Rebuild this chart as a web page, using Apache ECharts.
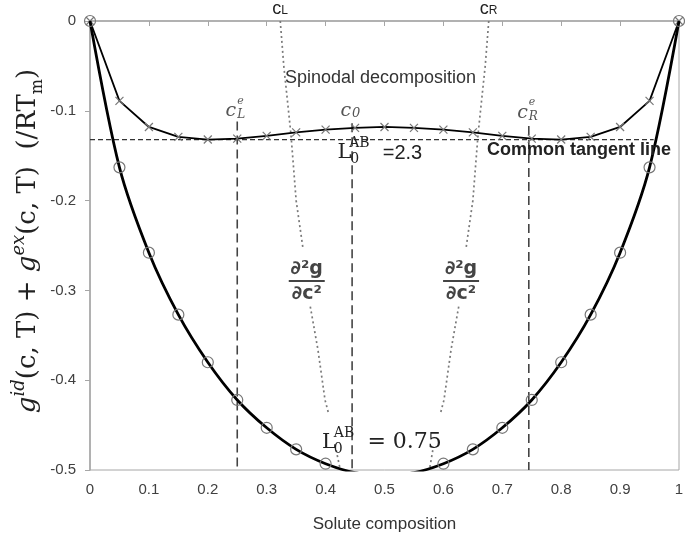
<!DOCTYPE html>
<html>
<head>
<meta charset="utf-8">
<script src="https://cdn.jsdelivr.net/npm/echarts@6/dist/echarts.min.js"></script>
<style>
  html, body { margin: 0; padding: 0; background: #fff; }
  #main { width: 685px; height: 541px; }
</style>
</head>
<body>
<div id="main"></div>
<script>
// solute composition c
var comp = [0, 0.05, 0.1, 0.15, 0.2, 0.25, 0.3, 0.35, 0.4, 0.45, 0.5,
            0.55, 0.6, 0.65, 0.7, 0.75, 0.8, 0.85, 0.9, 0.95, 1];
// g (/RTm) for L0AB = 2.3  (x markers)
var gHigh = [0, -0.089, -0.118, -0.129, -0.132, -0.131, -0.128, -0.124, -0.121, -0.119, -0.118,
             -0.119, -0.121, -0.124, -0.128, -0.131, -0.132, -0.129, -0.118, -0.089, 0];
// g (/RTm) for L0AB = 0.75 (circle markers)
var gLow = [0, -0.163, -0.258, -0.327, -0.380, -0.422, -0.453, -0.477, -0.493, -0.503, -0.506,
            -0.503, -0.493, -0.477, -0.453, -0.422, -0.380, -0.327, -0.258, -0.163, 0];

// common tangent line and equilibrium / c0 positions
var tangentY = -0.132;
var tangentX = [0, 0.957];
var ceL = 0.25, c0 = 0.445, ceR = 0.745;
var vTop = [-0.112, -0.114, -0.117];

// dotted d2g/dc2 guide lines (segments broken where labels sit)
var cLSegs = [
  [[0.323, 0], [0.329, -0.05], [0.341, -0.125], [0.350, -0.2], [0.362, -0.255]],
  [[0.374, -0.318], [0.387, -0.366], [0.399, -0.422], [0.405, -0.437]],
  [[0.418, -0.478], [0.424, -0.497]]
];
var cRSegs = [
  [[0.677, 0], [0.671, -0.05], [0.659, -0.125], [0.650, -0.2], [0.638, -0.255]],
  [[0.626, -0.318], [0.613, -0.366], [0.601, -0.422], [0.595, -0.437]],
  [[0.582, -0.478], [0.577, -0.497]]
];

var myChart = echarts.init(document.getElementById('main'));

function pairs(xs, ys) {
  return xs.map(function (x, i) { return [x, ys[i]]; });
}

var series = [];
cLSegs.concat(cRSegs).forEach(function (seg) {
  series.push({
    type: 'line', data: seg, symbol: 'none', silent: true, z: 1,
    lineStyle: { color: '#7a7a7a', width: 1.7, type: [2, 3] }
  });
});
series.push({
  type: 'line', data: pairs(tangentX, [tangentY, tangentY]), symbol: 'none', z: 1,
  lineStyle: { color: '#333', width: 1.2, type: [5, 3] }
});
[ceL, c0, ceR].forEach(function (c, i) {
  series.push({
    type: 'line', data: [[c, vTop[i]], [c, -0.5]], symbol: 'none', z: 1,
    lineStyle: { color: '#444', width: 1.6, type: [9, 5] }
  });
});
series.push({
  name: 'L=2.3', type: 'line', data: pairs(comp, gHigh), z: 3,
  symbol: 'path://M0,0L10,10M10,0L0,10', symbolSize: 8,
  itemStyle: { color: 'none', borderColor: '#777', borderWidth: 1.2 },
  lineStyle: { color: '#000', width: 1.8 }
});
series.push({
  name: 'L=0.75', type: 'line', data: pairs(comp, gLow), z: 4, clip: true,
  smooth: 0.3,
  symbol: 'circle', symbolSize: 11,
  itemStyle: { color: 'rgba(0,0,0,0)', borderColor: '#777', borderWidth: 1.2 },
  lineStyle: { color: '#000', width: 2.8 }
});

var axisGray = '#a6a6a6';
var option = {
  animation: false,
  backgroundColor: '#fff',
  grid: { left: 90, right: 6, top: 21, bottom: 71, show: true, borderColor: axisGray, borderWidth: 1,
          containLabel: false, outerBoundsMode: 'none' },
  xAxis: {
    type: 'value', min: 0, max: 1, interval: 0.1,
    name: 'Solute composition', nameLocation: 'middle', nameGap: 46,
    nameTextStyle: { fontFamily: 'Liberation Sans', fontSize: 17, color: '#333' },
    axisLine: { show: true, lineStyle: { color: axisGray, width: 1.5 } },
    axisTick: { show: true, length: 5, lineStyle: { color: axisGray } },
    axisLabel: { fontFamily: 'Liberation Sans', fontSize: 15, color: '#404040', margin: 12 },
    splitLine: { show: false }
  },
  yAxis: {
    type: 'value', min: -0.5, max: 0, interval: 0.1,
    axisLine: { show: true, lineStyle: { color: axisGray, width: 1.5 } },
    axisTick: { show: true, length: 5, lineStyle: { color: axisGray } },
    axisLabel: { fontFamily: 'Liberation Sans', fontSize: 15, color: '#404040', margin: 14 },
    splitLine: { show: false }
  },
  series: series
};
myChart.setOption(option);

// text annotations anchored to data coordinates
function P(x, y) { return myChart.convertToPixel({ gridIndex: 0 }, [x, y]); }
function T(x, y, dx, dy, text, st) {
  var p = P(x, y);
  var s = Object.assign({ text: text, fill: '#333', fontFamily: 'Liberation Sans', fontSize: 16,
                          align: 'left', verticalAlign: 'middle' }, st || {});
  return { type: 'text', x: p[0] + dx, y: p[1] + dy, z: 100, style: s };
}
var serifIt = { fontFamily: 'DejaVu Serif', fontStyle: 'italic', fill: '#555' };
function frac(x, y) {
  var p = P(x, y);
  var st = { fontFamily: 'DejaVu Sans', fontWeight: 'bold', fontSize: 19, fill: '#444', align: 'center', verticalAlign: 'middle' };
  return [
    { type: 'text', x: p[0], y: p[1] - 12, z: 100, style: Object.assign({ text: '\u2202\u00b2g' }, st) },
    { type: 'line', z: 100, shape: { x1: p[0] - 18, y1: p[1], x2: p[0] + 18, y2: p[1] }, style: { stroke: '#444', lineWidth: 2 } },
    { type: 'text', x: p[0], y: p[1] + 13, z: 100, style: Object.assign({ text: '\u2202c\u00b2' }, st) }
  ];
}
var g = [];
// y axis title (rotated, with super/subscripts)
var mid = P(0, -0.245);
g.push({
  type: 'text', x: 28, y: mid[1], rotation: Math.PI / 2, z: 100,
  style: {
    text: '{i|g}{sp|id}{r|(c, T) + }{i|g}{sp|ex}{r|(c, T)  (/RT}{sb|m}{r|)}',
    align: 'center', verticalAlign: 'middle', fill: '#222',
    rich: {
      i: { fontFamily: 'DejaVu Serif', fontStyle: 'italic', fontSize: 26, fill: '#222', lineHeight: 36, verticalAlign: 'middle' },
      r: { fontFamily: 'DejaVu Serif', fontSize: 26, fill: '#222', lineHeight: 36, verticalAlign: 'middle' },
      sp: { fontFamily: 'DejaVu Serif', fontStyle: 'italic', fontSize: 18, fill: '#222', verticalAlign: 'top', lineHeight: 36 },
      sb: { fontFamily: 'DejaVu Serif', fontSize: 16, fill: '#222', verticalAlign: 'bottom', lineHeight: 32 }
    }
  }
});
// cL, cR at top
g.push(T(0.323, 0, 1, -12, 'c', { fontSize: 18, align: 'right', fill: '#222' }));
g.push(T(0.323, 0, 1, -10, 'L', { fontSize: 12, fill: '#222' }));
g.push(T(0.677, 0, 0, -12, 'c', { fontSize: 18, align: 'right', fill: '#222' }));
g.push(T(0.677, 0, 0, -10, 'R', { fontSize: 12, fill: '#222' }));
// spinodal decomposition
g.push(T(0.331, -0.063, 0, 0, 'Spinodal decomposition', { fontSize: 18, fill: '#333' }));
// equilibrium compositions and c0
g.push(T(ceL, -0.1, -1, 0, 'c', Object.assign({ fontSize: 19, align: 'right' }, serifIt)));
g.push(T(ceL, -0.1, 0, -10, 'e', Object.assign({ fontSize: 11 }, serifIt)));
g.push(T(ceL, -0.1, 0, 4, 'L', Object.assign({ fontSize: 12 }, serifIt)));
g.push(T(c0, -0.1, -1, 0, 'c', Object.assign({ fontSize: 19, align: 'right' }, serifIt)));
g.push(T(c0, -0.1, 0, 3, '0', Object.assign({ fontSize: 13 }, serifIt)));
g.push(T(ceR, -0.102, -1, 0, 'c', Object.assign({ fontSize: 19, align: 'right' }, serifIt)));
g.push(T(ceR, -0.102, 0, -10, 'e', Object.assign({ fontSize: 11 }, serifIt)));
g.push(T(ceR, -0.102, 0, 4, 'R', Object.assign({ fontSize: 12 }, serifIt)));
// L0AB = 2.3
g.push(T(0.42, -0.146, 0, 0, 'L', { fontFamily: 'DejaVu Serif', fontSize: 21, fill: '#222' }));
g.push(T(0.44, -0.146, 0, -9, 'AB', { fontFamily: 'DejaVu Serif', fontSize: 14, fill: '#222' }));
g.push(T(0.44, -0.146, 1, 7, '0', { fontFamily: 'DejaVu Serif', fontSize: 14, fill: '#222' }));
g.push(T(0.497, -0.147, 0, 0, '=2.3', { fontFamily: 'Liberation Sans', fontSize: 20, fill: '#222' }));
// common tangent line
g.push(T(0.674, -0.144, 0, 0, 'Common tangent line', { fontFamily: 'Liberation Sans', fontWeight: 'bold', fontSize: 18, fill: '#222' }));
// d2g/dc2
g = g.concat(frac(0.368, -0.2895), frac(0.63, -0.2895));
// L0AB = 0.75
g.push(T(0.394, -0.469, 0, 0, 'L', { fontFamily: 'DejaVu Serif', fontSize: 21, fill: '#222' }));
g.push(T(0.414, -0.469, 0, -9, 'AB', { fontFamily: 'DejaVu Serif', fontSize: 14, fill: '#222' }));
g.push(T(0.414, -0.469, 0, 7, '0', { fontFamily: 'DejaVu Serif', fontSize: 14, fill: '#222' }));
g.push(T(0.471, -0.469, 0, 0, '= 0.75', { fontFamily: 'DejaVu Serif', fontSize: 22, fill: '#222' }));

myChart.setOption({ graphic: g });
window.onresize = myChart.resize;
</script>
</body>
</html>
